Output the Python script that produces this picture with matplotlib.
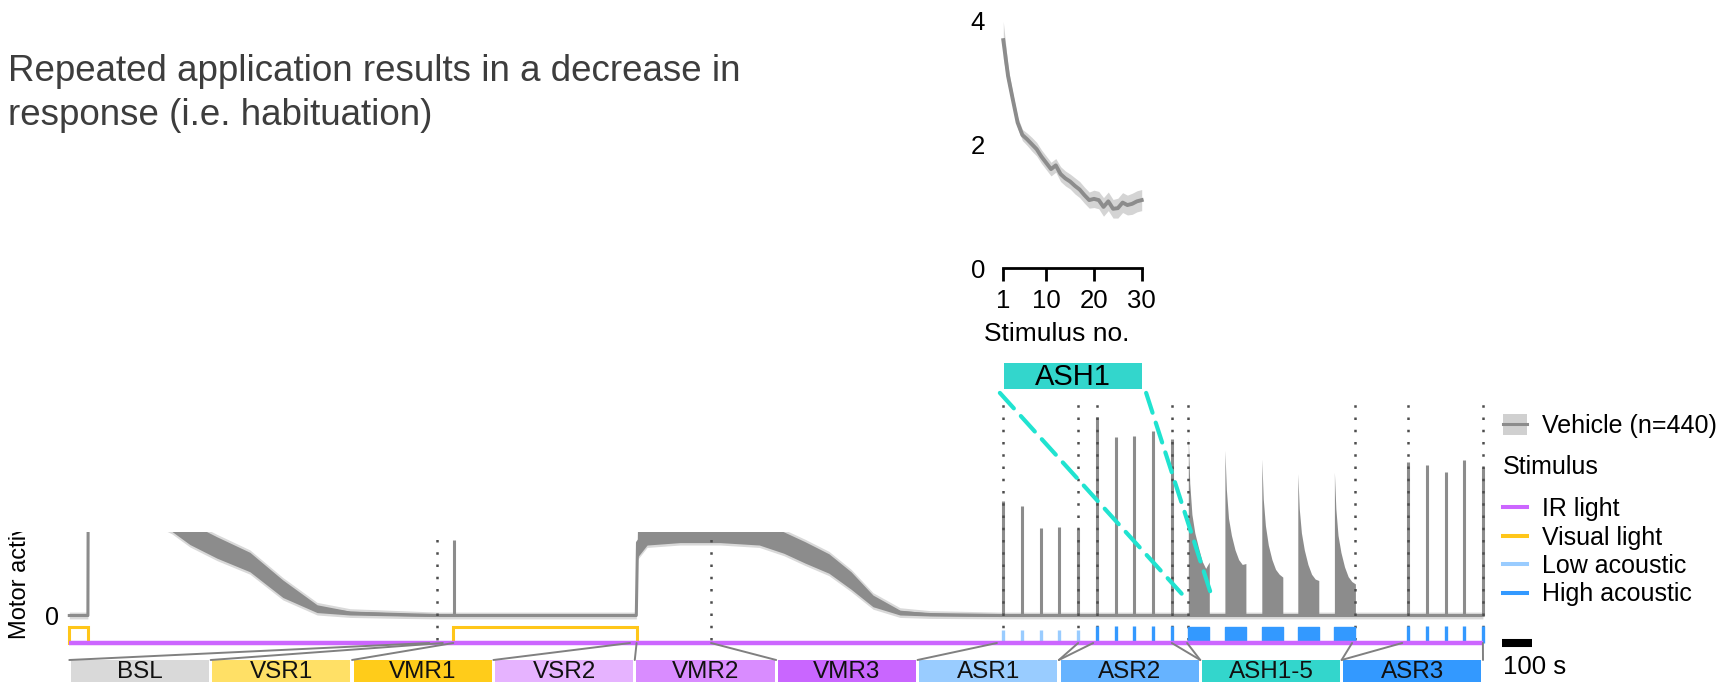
import numpy as np
import matplotlib
matplotlib.use('Agg')
import matplotlib.pyplot as plt
from matplotlib.patches import Rectangle, Patch, ConnectionPatch
from matplotlib.lines import Line2D
from matplotlib.legend_handler import HandlerTuple

plt.rcParams['font.family'] = ['Liberation Sans', 'DejaVu Sans']

W, H = 1727, 683


def rect(x0, y0, x1, y1):
    # pixel box (origin top-left) -> figure fraction rect
    return [x0 / W, 1 - y1 / H, (x1 - x0) / W, (y1 - y0) / H]


# %% data
# full protocol, time in seconds
t_end = 4712

# vehicle mean trace and half width of the noisy band
trace_t = [0, 62, 63, 170, 270, 342, 402, 492, 602, 712, 826, 936, 1102, 1226,
           1890, 1894, 1926, 2036, 2169, 2300, 2382, 2452, 2532, 2606, 2679, 2769, 2869, 3102, 4712]
trace_m = [0, 0, 2.5, 2.4, 2.2, 1.95, 1.68, 1.4, 1.1, 0.55, 0.14, 0.05, 0.02, 0,
           0, 1.5, 1.75, 1.8, 1.8, 1.7, 1.5, 1.3, 1.07, 0.72, 0.3, 0.06, 0.02, 0, 0]
trace_sd = [0.02, 0.02, 0.25, 0.25, 0.25, 0.22, 0.22, 0.22, 0.2, 0.18, 0.08, 0.04, 0.03, 0.02,
            0.02, 0.3, 0.3, 0.3, 0.3, 0.25, 0.22, 0.22, 0.2, 0.18, 0.12, 0.05, 0.03, 0.02, 0.02]

# single-stimulus responses
vsr_t = [1282]
vsr_h = [1.55]
asr1_t = [3113, 3177, 3238, 3300, 3363]
asr1_h = [2.35, 2.26, 1.80, 1.82, 1.77]
asr2_t = [3425, 3488, 3549, 3611, 3675]
asr2_h = [4.09, 3.67, 3.69, 3.79, 3.64]
asr3_t = [4464, 4526, 4589, 4650, 4712]
asr3_h = [3.15, 3.10, 2.95, 3.20, 3.05]

# habituation blocks (30 stimuli each), envelope at some stimulus numbers
ash_start = [3730, 3852, 3975, 4095, 4217]
ash_dur = 70
ash_stim = [1, 3, 6, 10, 15, 20, 25, 30]
ash_env = [[3.68, 2.72, 2.08, 1.70, 1.40, 1.12, 0.97, 1.10],
           [3.40, 2.60, 2.00, 1.65, 1.35, 1.15, 1.05, 1.07],
           [3.22, 2.40, 1.85, 1.45, 1.15, 0.95, 0.85, 0.79],
           [2.92, 2.20, 1.70, 1.35, 1.05, 0.85, 0.75, 0.72],
           [2.95, 2.20, 1.65, 1.30, 1.00, 0.80, 0.70, 0.65]]

dotted_t = [1226, 2139, 3113, 3363, 3425, 3675, 3730, 4285, 4464, 4712]

visual_on = [(0, 63), (1280, 1891)]
low_acoustic = asr1_t
high_acoustic = asr2_t + asr3_t

seg_names = ['BSL', 'VSR1', 'VMR1', 'VSR2', 'VMR2', 'VMR3', 'ASR1', 'ASR2', 'ASH1-5', 'ASR3']
seg_colors = ['#d9d9d9', '#ffe066', '#ffcc1a', '#e6b3ff', '#d98cff', '#c966ff',
              '#99ccff', '#66b3ff', '#33d6cc', '#3399ff']
# (box edge index, time on protocol)
seg_links = [(0, 1200), (1, 1245), (2, 1280), (3, 1869), (4, 1891), (5, 2139), (6, 3092),
             (7, 3363), (7, 3413), (8, 3675), (8, 3726), (9, 4276), (9, 4443), (10, 4712)]

# inset: ASH1 mean response per stimulus
stim_no = np.arange(1, 31)
ash1_mean = [3.68, 3.10, 2.72, 2.35, 2.15, 2.08, 2.00, 1.92, 1.80, 1.70,
             1.60, 1.66, 1.52, 1.45, 1.40, 1.33, 1.27, 1.18, 1.10, 1.12,
             1.10, 0.99, 1.08, 0.96, 0.97, 1.06, 1.02, 1.04, 1.08, 1.10]
ash1_sem = [0.30, 0.15, 0.10, 0.09, 0.09, 0.10, 0.11, 0.11, 0.11, 0.11,
            0.11, 0.11, 0.12, 0.12, 0.12, 0.13, 0.13, 0.13, 0.13, 0.14,
            0.14, 0.15, 0.15, 0.15, 0.16, 0.16, 0.16, 0.17, 0.17, 0.17]

GREY = '#8c8c8c'
IR_C, VIS_C, LOW_C, HIGH_C = '#cc66ff', '#ffc619', '#99ccff', '#3399ff'
CYAN = '#20e3d0'
FS = 18

fig = plt.figure(figsize=(W / 100, H / 100), dpi=100)

# %% main trace
xl = ((60 - 69.3) / 0.3, (1495 - 69.3) / 0.3)
ax = fig.add_axes(rect(60, 390, 1495, 625))
ax.patch.set_visible(False)
ax.set_xlim(xl)
ax.set_ylim((615.5 - 625) / 48.6, (615.5 - 390) / 48.6)
tm = np.array(trace_m)
sd = np.array(trace_sd)
ax.fill_between(trace_t, tm - sd - 0.05, tm + sd + 0.05, color='#d9d9d9', lw=0)
ax.fill_between(trace_t, tm - sd, tm + sd, color=GREY, lw=0)
ax.plot(trace_t, trace_m, color=GREY, lw=2.2)
for ts, hs in [(vsr_t, vsr_h), (asr1_t, asr1_h), (asr2_t, asr2_h), (asr3_t, asr3_h)]:
    ax.vlines(ts, 0, hs, color=GREY, lw=2.2, clip_on=False)
for st, env in zip(ash_start, ash_env):
    xs = st + (np.array(ash_stim) - 1) / 29 * ash_dur
    ax.fill_between(xs, 0, env, color=GREY, lw=0)
ax.vlines(dotted_t, -0.5, 4.54, color='#4d4d4d', lw=1.8,
          linestyle=(0, (1, 3.9)), clip_on=False, zorder=4)
for s in ax.spines.values():
    s.set_visible(False)
ax.set_xticks([])
ax.set_yticks([0])
ax.tick_params(axis='y', length=0, pad=1, labelsize=FS)

# %% stimulus track
axs = fig.add_axes(rect(60, 620, 1495, 650))
axs.patch.set_visible(False)
axs.set_xlim(xl)
axs.set_ylim(0, 1)
axs.axis('off')
ir_y, vis_hi, low_top, high_top = 0.233, 0.767, 0.667, 0.8
vx, vy = [0], [vis_hi]
for a, b in visual_on:
    vx += [a, a, b, b]
    vy += [ir_y, vis_hi, vis_hi, ir_y]
axs.plot(vx[1:], vy[1:], color=VIS_C, lw=2.2, solid_joinstyle='miter')
axs.vlines(low_acoustic, ir_y, low_top, color=LOW_C, lw=2.4)
axs.vlines(high_acoustic, ir_y, high_top, color=HIGH_C, lw=2.4)
axs.broken_barh([(s, ash_dur) for s in ash_start], (ir_y, high_top - ir_y - 0.02), color=HIGH_C)
axs.plot([0, t_end], [ir_y, ir_y], color=IR_C, lw=3.2, solid_capstyle='butt')
# scale bar 100 s
axs.plot([4776, 4876], [ir_y, ir_y], color='black', lw=5.8, solid_capstyle='butt', clip_on=False)

# %% segment boxes
axg = fig.add_axes(rect(69.3, 660, 1483, 682))
axg.set_xlim(0, 10)
axg.set_ylim(0, 1)
axg.axis('off')
axg.bar(np.arange(10) + 0.5, 1, width=0.977, bottom=0, color=seg_colors)
for i, name in enumerate(seg_names):
    axg.text(i + 0.5, 0.45, name, ha='center', va='center', fontsize=17.5, color='#111111')
for k, t in seg_links:
    fig.add_artist(ConnectionPatch(xyA=(k, 1), coordsA=axg.transData, xyB=(t, ir_y),
                                   coordsB=axs.transData, color='#808080', lw=1.4))

# white slide area that covers the upper-left of the panel
fig.add_artist(Rectangle((0, 1 - 532 / H), 990 / W, 532 / H, transform=fig.transFigure,
                         facecolor='white', edgecolor='none', zorder=2.5))

fig.text(20 / W, 1 - 639 / H, 'Motor activity', rotation=90, ha='center', va='bottom',
         fontsize=17, zorder=1)

fig.text(8 / W, 1 - 81 / H, 'Repeated application results in a decrease in',
         fontsize=26.5, color='#3d3d3d', va='baseline', zorder=3)
fig.text(8 / W, 1 - 125 / H, 'response (i.e. habituation)',
         fontsize=26.5, color='#3d3d3d', va='baseline', zorder=3)

# %% inset
axi = fig.add_axes(rect(1003.3, 17.2, 1141.7, 268.3))
axi.set_zorder(3)
axi.set_xlim(1, 30)
axi.set_ylim(0, 4.05)
m = np.array(ash1_mean)
e = np.array(ash1_sem)
axi.fill_between(stim_no, m - e, m + e, color='#d4d4d4', lw=0, clip_on=False)
axi.plot(stim_no, m, color=GREY, lw=2.8, clip_on=False)
for s in ['top', 'right', 'left']:
    axi.spines[s].set_visible(False)
axi.spines['bottom'].set_linewidth(2)
axi.set_xticks([1, 10, 20, 30])
axi.set_yticks([0, 2, 4])
axi.tick_params(axis='x', length=9, width=2, labelsize=18.5, pad=6)
axi.tick_params(axis='y', length=0, labelsize=18.5, pad=13)
axi.set_xlabel('Stimulus no.', fontsize=19, va='top')
axi.xaxis.set_label_coords(0.388, -0.214)

axa = fig.add_axes(rect(1004, 363, 1142, 389))
axa.set_zorder(3)
axa.set_facecolor('#33d6cc')
axa.set_xticks([])
axa.set_yticks([])
for s in axa.spines.values():
    s.set_visible(False)
axa.text(0.5, 0.45, 'ASH1', transform=axa.transAxes, ha='center', va='center', fontsize=21)

for xa, xb, yb in [(-0.03, ash_start[0] - 18, 0.42), (1.03, ash_start[0] + ash_dur + 9, 0.38)]:
    fig.add_artist(ConnectionPatch(xyA=(xa, -0.15), coordsA=axa.transAxes, xyB=(xb, yb),
                                   coordsB=ax.transData, color=CYAN, lw=3,
                                   linestyle=(0, (5, 2.5)), zorder=5))

# %% legends and scale label
veh = (Patch(facecolor='#d0d0d0', edgecolor='none'), Line2D([], [], color=GREY, lw=2.2))
fig.legend([veh], ['Vehicle (n=440)'], loc='center left', bbox_to_anchor=(1503 / W, 1 - 426 / H),
           frameon=False, borderpad=0, borderaxespad=0, handlelength=0.96, handleheight=0.88,
           handletextpad=0.6, fontsize=FS, handler_map={tuple: HandlerTuple(ndivide=1)})
fig.text(1502.7 / W, 1 - 467 / H, 'Stimulus', fontsize=FS, va='center')
stim_h = [Line2D([], [], color=c, lw=2.9) for c in [IR_C, VIS_C, LOW_C, HIGH_C]]
fig.legend(stim_h, ['IR light', 'Visual light', 'Low acoustic', 'High acoustic'],
           loc='upper left', bbox_to_anchor=(1503 / W, 1 - 497 / H), frameon=False,
           borderpad=0, borderaxespad=0, handlelength=0.96, handletextpad=0.6,
           labelspacing=0.18, fontsize=FS)
fig.text(1502.7 / W, 1 - 666.7 / H, '100 s', fontsize=18.5, va='center')

fig.savefig('out.png', dpi=100)
